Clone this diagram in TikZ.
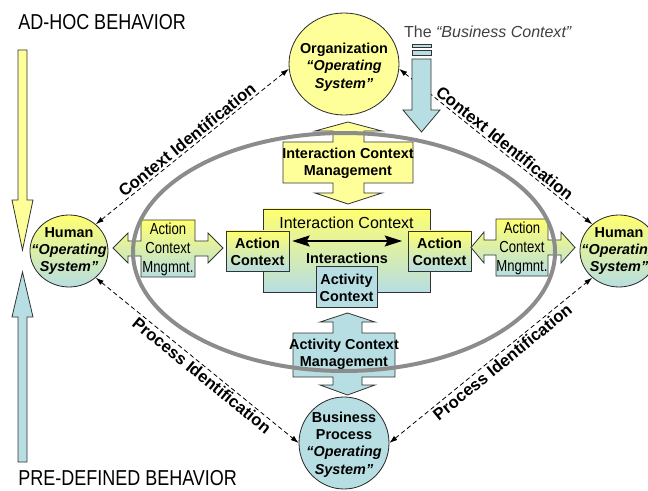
\documentclass[tikz,border=0pt]{standalone}
\usepackage{fontspec}
\setmainfont{Liberation Sans}
\usetikzlibrary{arrows.meta}
\usetikzlibrary{shapes.geometric}
\tikzset{>=latex}

\definecolor{pyellow}{HTML}{FFFF99}
\definecolor{gyellow}{HTML}{FFFF70}
\definecolor{pblue}{HTML}{B7DEE2}
\definecolor{ringgray}{HTML}{8C8C8C}

\newcommand{\thintext}[1]{\scalebox{0.82}[1]{#1}}
\newcommand{\tallcaps}[1]{\scalebox{1}[1.2]{#1}}

\tikzset{
  osys/.style={ellipse, draw=black!85, line width=0.6pt, inner sep=0pt},
  ostext/.style={font=\bfseries\fontsize{10.8}{13}\selectfont, align=center, inner sep=0pt},
  ctxbox/.style={draw=black!80, line width=0.6pt, inner sep=0pt},
  callout/.style={draw=black!80, line width=0.6pt},
  boxtext/.style={font=\bfseries\fontsize{10.8}{13}\selectfont, align=center, inner sep=0pt},
  mngtext/.style={font=\fontsize{12}{14.25}\selectfont, align=center, inner sep=0pt},
  ident/.style={draw=black, line width=0.6pt, dash pattern=on 3.4pt off 2.3pt,
    {Latex[length=6pt,width=4pt]}-{Latex[length=6pt,width=4pt]}},
  idlabel/.style={sloped, font=\bfseries\fontsize{12.5}{14}\selectfont, inner sep=1.5pt},
  ring/.style={draw=ringgray, line width=3pt},
  behav/.style={font=\fontsize{13.5}{16}\selectfont, anchor=west, inner sep=0pt}
}

\begin{document}
\begin{tikzpicture}[x=0.75pt,y=-0.75pt]
    \useasboundingbox (0,0) rectangle (648,491);

    % behaviour scale on the left
    \node[behav] (adhoc) at (18,22.5) {\tallcaps{AD-HOC BEHAVIOR}};
    \node[behav] (predef) at (18,478) {\tallcaps{PRE-DEFINED BEHAVIOR}};
    \draw[callout, fill=pyellow] (18,50) -- (27,50) -- (27,200) -- (33,200) -- (22.5,250)
        -- (12,200) -- (18,200) -- cycle;
    \draw[callout, fill=pblue] (18,462) -- (18,317) -- (12,317) -- (22.5,272) -- (33,317)
        -- (27,317) -- (27,462) -- cycle;

    %operating systems
    \node[osys, fill=pyellow, minimum width=82.5pt, minimum height=76.5pt] (org) at (344,64) {};
    \node[ostext] (orgtext) at (344,67) {Organization\\\textit{“Operating}\\\textit{System”}};

    \node[osys, top color=gyellow, bottom color=pblue, minimum width=58.5pt, minimum height=54pt] (hl) at (69,251) {};
    \node[ostext] (hltext) at (69,251) {Human\\\textit{“Operating}\\\textit{System”}};

    \node[osys, top color=gyellow, bottom color=pblue, minimum width=58.5pt, minimum height=54pt] (hr) at (619,251) {};
    \node[ostext] (hrtext) at (619,251) {Human\\\textit{“Operating}\\\textit{System”}};

    \node[osys, fill=pblue, minimum width=67.5pt, minimum height=69pt] (bp) at (344,443) {};
    \node[ostext] (bptext) at (344,444.5) {Business\\Process\\\textit{“Operating}\\\textit{System”}};

    %identification links
    \draw[ident] (hl.45) -- node[idlabel, above] (ctxleft) {Context Identification} (org.185);
    \draw[ident] (org.-5) -- node[idlabel, above, pos=0.52] (ctxright) {Context Identification} (hr.135);
    \draw[ident] (hl.-45) -- node[idlabel, below, pos=0.55] (procleft) {Process Identification} (bp.180);
    \draw[ident] (bp.0) -- node[idlabel, below, pos=0.53] (procright) {Process Identification} (hr.-135);

    %business context
    \node[font=\fontsize{12}{14}\selectfont, text=black!75, inner sep=0pt] (bctext) at (488,32)
        {The \textit{“Business Context”}};
    \draw[callout, fill=pblue] (412,44) rectangle (431,47.5);
    \draw[callout, fill=pblue] (412,50.5) rectangle (431,55.5);
    \draw[callout, fill=pblue] (412,59) -- (431,59) -- (431,110) -- (440,110) -- (421.5,132)
        -- (403,110) -- (412,110) -- cycle;

    %interaction context management
    \draw[callout, fill=pyellow] (283,142) -- (333,142) -- (333,131) -- (315,131) -- (348,122)
        -- (382,131) -- (364,131) -- (364,142) -- (413,142) -- (413,183) -- (364,183)
        -- (364,193) -- (382,193) -- (348,204) -- (315,193) -- (333,193) -- (333,183)
        -- (283,183) -- cycle;
    \node[boxtext] (icm) at (348,163) {Interaction Context\\Management};

    %interaction context
    \node[ctxbox, top color=gyellow, bottom color=pblue, minimum width=125.25pt, minimum height=62.25pt] (ic) at (346.5,250.5) {};
    \node[font=\fontsize{12}{14}\selectfont, inner sep=0pt] (ictitle) at (346.5,223) {Interaction Context};
    \node[ctxbox, top color=gyellow, bottom color=pblue, minimum width=47.25pt, minimum height=30pt] (acl) at (257.5,251) {};
    \node[boxtext] (acltext) at (257.5,252) {Action\\Context};
    \node[ctxbox, top color=gyellow, bottom color=pblue, minimum width=47.25pt, minimum height=30pt] (acr) at (439.5,251) {};
    \node[boxtext] (acrtext) at (439.5,252) {Action\\Context};
    \node[boxtext] (inter) at (347,258) {Interactions};
    \node[ctxbox, fill=pblue, minimum width=45.75pt, minimum height=30.75pt] (act) at (346.5,286.5) {};
    \node[boxtext] (acttext) at (346.5,288) {Activity\\Context};
    \draw[line width=2.2pt, {Stealth[length=13pt,width=8pt,inset=2pt]}-{Stealth[length=13pt,width=8pt,inset=2pt]},
        shorten <=2pt, shorten >=4pt] ([yshift=7.5pt]acl.east) -- ([yshift=7.5pt]acr.west);

    %activity context management
    \draw[callout, fill=pblue] (293,333) -- (333,333) -- (333,322) -- (320,322) -- (347.5,313)
        -- (375,322) -- (362,322) -- (362,333) -- (395,333) -- (395,377) -- (362,377)
        -- (362,385) -- (375,385) -- (347.5,395) -- (320,385) -- (333,385) -- (333,377)
        -- (293,377) -- cycle;
    \node[boxtext] (acm) at (344,354) {Activity Context\\Management};

    %action context management
    \draw[callout, top color=gyellow, bottom color=pblue] (141,220) -- (195,220) -- (195,241)
        -- (208,241) -- (208,233) -- (223,248) -- (208,263) -- (208,256) -- (195,256)
        -- (195,277) -- (141,277) -- (141,256) -- (128,256) -- (128,263) -- (113,248)
        -- (128,233) -- (128,241) -- (141,241) -- cycle;
    \node[mngtext] (amleft) at (168,249) {\thintext{Action}\\\thintext{Context}\\\thintext{Mngmnt.}};
    \draw[callout, top color=gyellow, bottom color=pblue] (496,219) -- (548,219) -- (548,240)
        -- (561,240) -- (561,232) -- (575,247.5) -- (561,263) -- (561,255) -- (548,255)
        -- (548,276) -- (496,276) -- (496,255) -- (484,255) -- (484,263) -- (471,247.5)
        -- (484,232) -- (484,240) -- (496,240) -- cycle;
    \node[mngtext] (amright) at (522,248) {\thintext{Action}\\\thintext{Context}\\\thintext{Mngmnt.}};

    %the ring
    \draw[ring] (344,252) ellipse [x radius=211, y radius=119];
\end{tikzpicture}
\end{document}
